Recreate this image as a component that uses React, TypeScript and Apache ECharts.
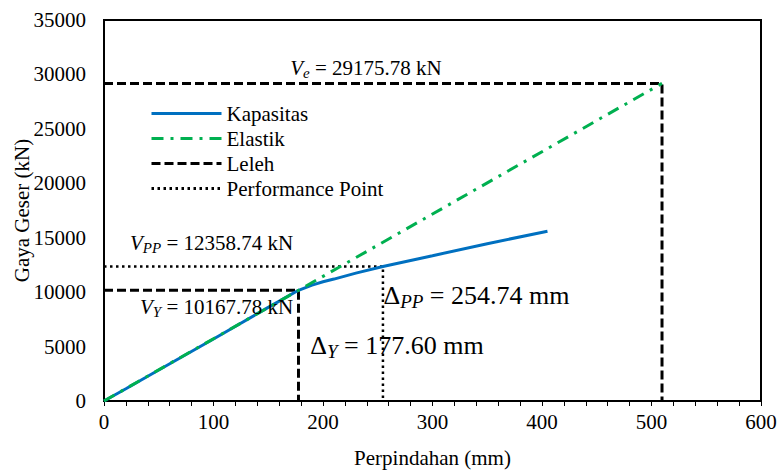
import React, { useEffect, useRef } from "react";
import * as echarts from "echarts";

const kapasitasX = [0, 20, 50, 100, 150, 177.6, 190, 200, 210, 230, 254.74, 300, 350, 405];
const kapasitasY = [0, 1120, 2850, 5700, 8600, 10167.78, 10650, 10950, 11200, 11750, 12358.74, 13350, 14450, 15600];

const elastikX = [0, 509.6];
const elastikY = [0, 29175.78];

const lelehYX = [0, 177.6, 177.6];
const lelehYY = [10167.78, 10167.78, 0];

const lelehEX = [0, 509.6, 509.6];
const lelehEY = [29175.78, 29175.78, 0];

const ppX = [0, 254.74, 254.74];
const ppY = [12358.74, 12358.74, 0];

const legendNames = ["Kapasitas", "Elastik", "Leleh", "Performance Point"];

// annotation texts, anchored in data coordinates (left, middle)
const annTexts = [
  "{v|V}{s|e}{t| = 29175.78 kN}",
  "{v|V}{s|PP}{t| = 12358.74 kN}",
  "{v|V}{s|Y}{t| = 10167.78 kN}",
  "{d|Δ}{ds|PP}{dt| = 254.74 mm}",
  "{d|Δ}{ds|Y}{dt| = 177.60 mm}",
];
const annX = [170.1, 23.8, 32.9, 255.2, 188.4];
const annY = [30590, 14514, 8635, 9737, 5144];

const SERIF = "Liberation Serif";

function pairs(xs: number[], ys: number[]) {
  return xs.map((x, i) => [x, ys[i]]);
}

export default function App() {
  const ref = useRef<HTMLDivElement>(null);
  useEffect(() => {
    if (!ref.current) return;
    const chart = echarts.init(ref.current, null, { renderer: "svg" });
    const dashed = { color: "#000", width: 3, type: [9, 4] as any };
    const option: any = {
      animation: false,
      textStyle: { fontFamily: SERIF },
      grid: {
        left: 104,
        right: 17,
        top: 20,
        bottom: 69,
        outerBoundsMode: "none",
        containLabel: false,
        show: true,
        borderColor: "#000",
        borderWidth: 2,
        backgroundColor: "transparent",
      },
      legend: {
        data: legendNames,
        orient: "vertical",
        left: 150,
        top: 103,
        padding: 0,
        itemWidth: 70,
        itemHeight: 14,
        itemGap: 4,
        itemStyle: { opacity: 0 },
        lineStyle: { width: 3 },
        textStyle: { fontFamily: SERIF, fontSize: 21, color: "#000" },
        inactiveColor: "#ccc",
      },
      xAxis: {
        type: "value",
        min: 0,
        max: 600,
        interval: 100,
        name: "Perpindahan (mm)",
        nameLocation: "middle",
        nameGap: 46,
        nameMoveOverlap: false,
        nameTextStyle: { fontFamily: SERIF, fontSize: 21, color: "#000" },
        axisLine: { onZero: false, lineStyle: { color: "#000", width: 2 } },
        axisTick: { show: true, inside: false, length: 5, lineStyle: { color: "#000", width: 1 } },
        minorTick: { show: true, splitNumber: 5, length: 5, lineStyle: { color: "#000", width: 1 } },
        axisLabel: { fontFamily: SERIF, fontSize: 21, color: "#000", margin: 10 },
        splitLine: { show: false },
      },
      yAxis: {
        type: "value",
        min: 0,
        max: 35000,
        interval: 5000,
        name: "Gaya Geser (kN)",
        nameLocation: "middle",
        nameGap: 72,
        nameMoveOverlap: false,
        nameTextStyle: { fontFamily: SERIF, fontSize: 21, color: "#000" },
        axisLine: { show: true, onZero: false, lineStyle: { color: "#000", width: 2 } },
        axisTick: { show: false },
        axisLabel: {
          fontFamily: SERIF,
          fontSize: 21,
          color: "#000",
          margin: 18,
          formatter: (v: number) => String(v),
        },
        splitLine: { show: false },
      },
      series: [
        {
          name: "Leleh",
          type: "line",
          symbol: "none",
          data: pairs(lelehEX, lelehEY),
          lineStyle: dashed,
          itemStyle: { color: "#000" },
          z: 2,
        },
        {
          name: "Leleh",
          type: "line",
          symbol: "none",
          data: pairs(lelehYX, lelehYY),
          lineStyle: dashed,
          itemStyle: { color: "#000" },
          z: 2,
        },
        {
          name: "Performance Point",
          type: "line",
          symbol: "none",
          data: pairs(ppX, ppY),
          lineStyle: { color: "#000", width: 2.5, type: [2.5, 3.5] },
          itemStyle: { color: "#000" },
          z: 2,
        },
        {
          name: "Kapasitas",
          type: "line",
          symbol: "none",
          data: pairs(kapasitasX, kapasitasY),
          lineStyle: { color: "#0070C0", width: 3 },
          itemStyle: { color: "#0070C0" },
          z: 3,
        },
        {
          name: "Elastik",
          type: "line",
          symbol: "none",
          data: pairs(elastikX, elastikY),
          lineStyle: { color: "#00B050", width: 3, type: [12, 7, 3, 7] },
          itemStyle: { color: "#00B050" },
          z: 4,
        },
      ],
    };
    chart.setOption(option);

    const rich = {
      v: { fontFamily: SERIF, fontStyle: "italic", fontSize: 21, fill: "#000" },
      s: { fontFamily: SERIF, fontStyle: "italic", fontSize: 15, fill: "#000", padding: [10, 0, 0, 0] },
      t: { fontFamily: SERIF, fontSize: 21, fill: "#000" },
      d: { fontFamily: SERIF, fontSize: 26, fill: "#000" },
      ds: { fontFamily: SERIF, fontStyle: "italic", fontSize: 19, fill: "#000", padding: [12, 0, 0, 0] },
      dt: { fontFamily: SERIF, fontSize: 26, fill: "#000" },
    };
    const graphic = annTexts.map((txt, i) => {
      const p = chart.convertToPixel({ gridIndex: 0 }, [annX[i], annY[i]]) as number[];
      return {
        type: "text",
        x: p[0],
        y: p[1],
        z: 10,
        style: {
          text: txt,
          rich,
          align: "left",
          verticalAlign: "middle",
          fill: "#000",
        },
      };
    });
    chart.setOption({ graphic });

    return () => chart.dispose();
  }, []);
  return (
    <div
      ref={ref}
      style={{ position: "absolute", left: 0, top: 0, width: 778, height: 470 }}
    />
  );
}
